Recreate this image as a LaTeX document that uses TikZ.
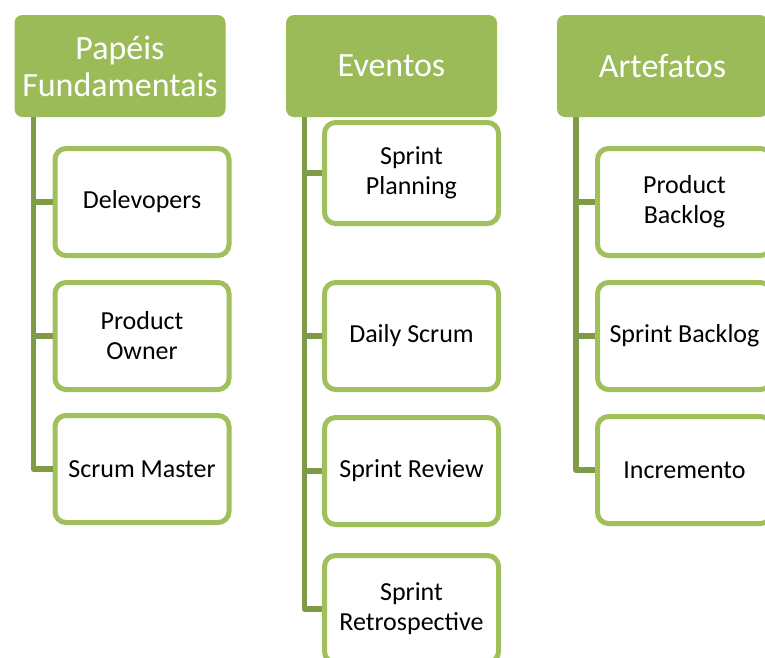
\documentclass[tikz,border=0pt]{standalone}
\usepackage{fontspec}
\setmainfont{Carlito}
\definecolor{hdrgreen}{RGB}{155,187,89}
\definecolor{boxgreen}{RGB}{160,192,92}
\definecolor{trunkgreen}{RGB}{128,155,72}
\tikzset{
hdr/.style={fill=hdrgreen, rounded corners=8pt, minimum width=211pt, minimum height=102pt,
  inner sep=0pt, text=white, align=center, font=\fontsize{34}{37}\selectfont},
itembox/.style={draw=boxgreen, line width=5pt, fill=white, rounded corners=11pt,
  minimum width=174pt, inner sep=0pt, align=center, font=\fontsize{26}{30}\selectfont},
trunk/.style={draw=trunkgreen, line width=5.5pt, line join=round},
}
% name, trunk, x, y, height, text
\newcommand{\itm}[6]{
\node[itembox, minimum height=#5pt] (#1) at (#3,#4) {#6};
\draw[trunk] (#2 |- #1.west) -- (#1.west);}

\begin{document}
\begin{tikzpicture}[x=1pt,y=-1pt]
\useasboundingbox[fill=white] (0,0) rectangle (765,657);
\node[hdr] (h1) at (120,66) {Papéis\\Fundamentais};
\node[hdr] (h2) at (391.5,66) {Eventos};
\node[hdr] (h3) at (662.5,66) {Artefatos};
\coordinate[xshift=19pt] (t1) at (h1.south west);
\coordinate[xshift=18.5pt] (t2) at (h2.south west);
\coordinate[xshift=19pt] (t3) at (h3.south west);
% papeis
\itm{dev}{t1}{142}{202}{107}{Delevopers}
\itm{po}{t1}{142}{336}{107}{Product\\Owner}
\itm{sm}{t1}{142}{469}{107}{Scrum Master}
\draw[trunk] (t1) |- (sm.west);
% eventos
\itm{plan}{t2}{411.5}{173}{101}{Sprint\\Planning}
\itm{daily}{t2}{411.5}{336}{107}{Daily Scrum}
\itm{review}{t2}{411.5}{471}{107}{Sprint Review}
\itm{retro}{t2}{411.5}{609}{107}{Sprint\\Retrospective}
\draw[trunk] (t2) |- (retro.west);
% artefatos
\itm{pb}{t3}{684.5}{202}{107}{Product\\Backlog}
\itm{sb}{t3}{684.5}{336}{107}{Sprint Backlog}
\itm{inc}{t3}{684.5}{470}{107}{Incremento}
\draw[trunk] (t3) |- (inc.west);
\end{tikzpicture}
\end{document}
